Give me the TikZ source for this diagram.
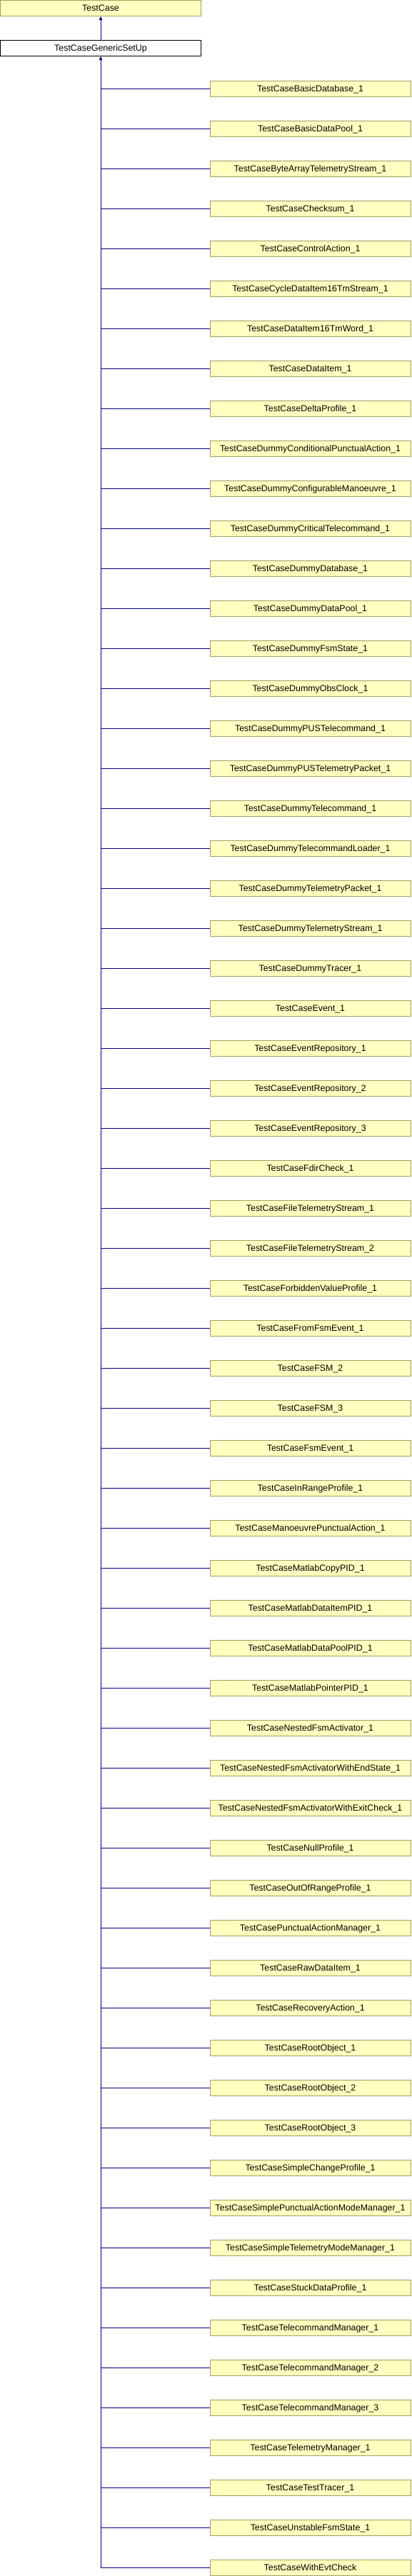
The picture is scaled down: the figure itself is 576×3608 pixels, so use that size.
\documentclass[tikz,border=0pt]{standalone}
\usepackage{fontspec}
\setmainfont{Liberation Sans}
\usetikzlibrary{arrows.meta}
\definecolor{clsfill}{HTML}{FFFFC0}
\definecolor{clsdraw}{HTML}{A0A060}
\definecolor{inhline}{HTML}{000080}
\begin{document}
\begin{tikzpicture}[x=1pt,y=1pt,yscale=-1,xscale=1,
    cls/.style={draw=clsdraw,fill=clsfill,line width=1pt,minimum width=281pt,minimum height=22pt,
      inner sep=0pt,text height=9pt,text depth=0.5pt,font=\fontsize{12.4}{14}\selectfont},
    gensetup/.style={cls,draw=black,fill=white},
    inh/.style={draw=inhline,line width=1pt},
    inharrow/.style={inh,-{Stealth[length=5.5pt,width=5pt,inset=1pt]}}]
    \useasboundingbox (0,0) rectangle (576,3608);
    % base classes
    \node [cls] (base) at (141,11.5) {TestCase};
    \node [gensetup] (gen) at (141,67.5) {TestCaseGenericSetUp};
    \draw [inharrow] (gen.north) -- (base.south);
    % derived test cases
    \foreach \name [count=\i] in {TestCaseBasicDatabase\_1,TestCaseBasicDataPool\_1,
      TestCaseByteArrayTelemetryStream\_1,TestCaseChecksum\_1,TestCaseControlAction\_1,
      TestCaseCycleDataItem16TmStream\_1,TestCaseDataItem16TmWord\_1,TestCaseDataItem\_1,
      TestCaseDeltaProfile\_1,TestCaseDummyConditionalPunctualAction\_1,
      TestCaseDummyConfigurableManoeuvre\_1,TestCaseDummyCriticalTelecommand\_1,
      TestCaseDummyDatabase\_1,TestCaseDummyDataPool\_1,TestCaseDummyFsmState\_1,
      TestCaseDummyObsClock\_1,TestCaseDummyPUSTelecommand\_1,TestCaseDummyPUSTelemetryPacket\_1,
      TestCaseDummyTelecommand\_1,TestCaseDummyTelecommandLoader\_1,TestCaseDummyTelemetryPacket\_1,
      TestCaseDummyTelemetryStream\_1,TestCaseDummyTracer\_1,TestCaseEvent\_1,
      TestCaseEventRepository\_1,TestCaseEventRepository\_2,TestCaseEventRepository\_3,
      TestCaseFdirCheck\_1,TestCaseFileTelemetryStream\_1,TestCaseFileTelemetryStream\_2,
      TestCaseForbiddenValueProfile\_1,TestCaseFromFsmEvent\_1,TestCaseFSM\_2,TestCaseFSM\_3,
      TestCaseFsmEvent\_1,TestCaseInRangeProfile\_1,TestCaseManoeuvrePunctualAction\_1,
      TestCaseMatlabCopyPID\_1,TestCaseMatlabDataItemPID\_1,TestCaseMatlabDataPoolPID\_1,
      TestCaseMatlabPointerPID\_1,TestCaseNestedFsmActivator\_1,
      TestCaseNestedFsmActivatorWithEndState\_1,TestCaseNestedFsmActivatorWithExitCheck\_1,
      TestCaseNullProfile\_1,TestCaseOutOfRangeProfile\_1,TestCasePunctualActionManager\_1,
      TestCaseRawDataItem\_1,TestCaseRecoveryAction\_1,TestCaseRootObject\_1,
      TestCaseRootObject\_2,TestCaseRootObject\_3,TestCaseSimpleChangeProfile\_1,
      TestCaseSimplePunctualActionModeManager\_1,TestCaseSimpleTelemetryModeManager\_1,
      TestCaseStuckDataProfile\_1,TestCaseTelecommandManager\_1,TestCaseTelecommandManager\_2,
      TestCaseTelecommandManager\_3,TestCaseTelemetryManager\_1,TestCaseTestTracer\_1,
      TestCaseUnstableFsmState\_1,TestCaseWithEvtCheck}
    {
      \node [cls] (c\i) at (434.5,124+56*\i-56) {\name};
      \draw [inh] (c\i.west) -- (c\i.west -| gen.south);
    }
    % common trunk
    \draw [inharrow] (c63.west -| gen.south) -- (gen.south);
\end{tikzpicture}
\end{document}
